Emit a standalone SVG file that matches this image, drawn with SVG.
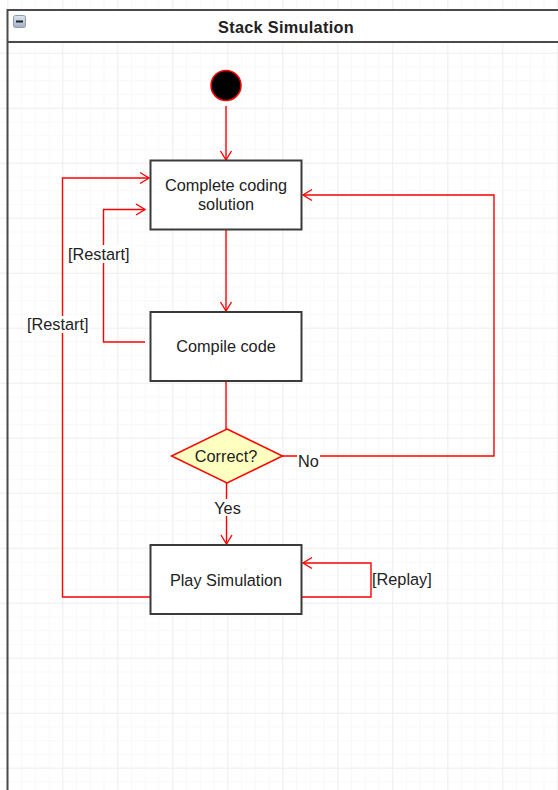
<svg xmlns="http://www.w3.org/2000/svg" width="558" height="790" viewBox="0 0 558 790">
<style>
.txt{font-family:"Liberation Sans",Arial,sans-serif;font-size:16.3px;fill:#222;text-anchor:middle;dominant-baseline:central}
.lbl{font-family:"Liberation Sans",Arial,sans-serif;font-size:16.3px;fill:#222;dominant-baseline:central}
.box{fill:#fff;stroke:#3a3a3a;stroke-width:2}
.edge{fill:none;stroke:#ff0000;stroke-width:1.4}
.bg{fill:#fff}
</style>
<defs>
<pattern id="minor" patternUnits="userSpaceOnUse" x="7.3" y="-2.3" width="13.75" height="13.75">
<path d="M0 0 H13.75 M0 0 V13.75" fill="none" stroke="#f4f4f4" stroke-width="1"/>
</pattern>
<pattern id="major" patternUnits="userSpaceOnUse" x="7.3" y="-2.3" width="55" height="55">
<path d="M0 0 H55 M0 0 V55" fill="none" stroke="#e6e6e6" stroke-width="1"/>
</pattern>
<marker id="arr" markerUnits="userSpaceOnUse" markerWidth="20" markerHeight="20" viewBox="-10 -10 20 20" refX="0" refY="0" orient="auto">
<path d="M-9 -5.5 L0 0 L-9 5.5" fill="none" stroke="#ff0000" stroke-width="1.4"/>
</marker>
<linearGradient id="ic" x1="0" y1="0" x2="0" y2="1">
<stop offset="0" stop-color="#dfe7f0"/>
<stop offset="1" stop-color="#9fb0c4"/>
</linearGradient>
</defs>
<rect width="558" height="790" fill="#fff"/>
<rect width="558" height="790" fill="url(#minor)"/>
<rect width="558" height="790" fill="url(#major)"/>
<g id="pool">
<rect x="7.5" y="10" width="560" height="32" fill="#fff"/>
<path d="M7.5 790 V10 H570" fill="none" stroke="#4a4a4a" stroke-width="2"/>
<path d="M7.5 42 H570" fill="none" stroke="#4a4a4a" stroke-width="2"/>
<rect x="13.5" y="15.5" width="12" height="12" rx="2" fill="url(#ic)" stroke="#8a9bb0" stroke-width="1"/>
<path d="M16 21.5 H23" stroke="#222" stroke-width="2"/>
<text x="286" y="27" class="txt" style="font-weight:bold;letter-spacing:0.3px">Stack Simulation</text>
</g>
<g id="connectors">
<path class="edge" d="M226 106 V160" marker-end="url(#arr)"/>
<path class="edge" d="M226 229 V311" marker-end="url(#arr)"/>
<path class="edge" d="M226 381 V429"/>
<path class="edge" d="M226.5 483 V544" marker-end="url(#arr)"/>
<path class="edge" d="M282 456 H494 V195 H303" marker-end="url(#arr)"/>
<path class="edge" d="M302 597 H371 V563 H303" marker-end="url(#arr)"/>
<path class="edge" d="M150 597 H62.5 V178 H149" marker-end="url(#arr)"/>
<path class="edge" d="M145 342 H103.5 V209.5 H145" marker-end="url(#arr)"/>
<rect class="bg" x="297" y="452" width="23" height="17"/>
<text class="lbl" x="298" y="461">No</text>
<rect class="bg" x="212" y="499" width="31" height="17"/>
<text class="txt" x="227.5" y="508">Yes</text>
<text class="lbl" x="372" y="579">[Replay]</text>
<rect class="bg" x="26" y="316" width="64" height="17"/>
<text class="lbl" x="27" y="324">[Restart]</text>
<rect class="bg" x="67" y="245" width="64" height="18"/>
<text class="lbl" x="68" y="254">[Restart]</text>
</g>
<g id="start">
<circle cx="226" cy="85.5" r="15" fill="#000" stroke="#ff0000" stroke-width="1.5"/>
</g>
<g id="complete-coding">
<rect class="box" x="150.5" y="160.5" width="151" height="69"/>
<text class="txt" x="226" y="185">Complete coding</text>
<text class="txt" x="226" y="204">solution</text>
</g>
<g id="compile-code">
<rect class="box" x="150.5" y="312" width="151" height="69"/>
<text class="txt" x="226" y="346">Compile code</text>
</g>
<g id="correct">
<path d="M227 429 L282.5 456 L227 483 L171.5 456 Z" fill="#ffffc0" stroke="#ff0000" stroke-width="1.5"/>
<text class="txt" x="226" y="456">Correct?</text>
</g>
<g id="play-simulation">
<rect class="box" x="150.5" y="545" width="151" height="69"/>
<text class="txt" x="226" y="580">Play Simulation</text>
</g>
</svg>
